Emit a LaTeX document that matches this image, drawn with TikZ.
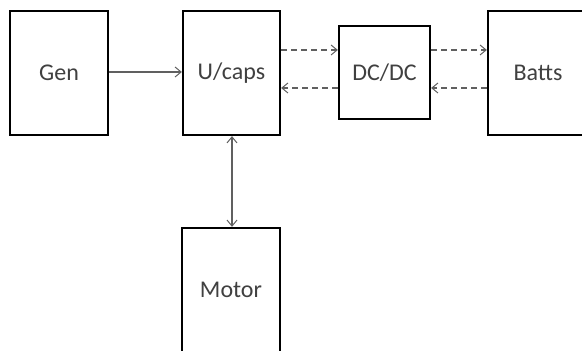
\documentclass[tikz,border=0pt]{standalone}
\usepackage{fontspec}
\setmainfont{Carlito}
\usetikzlibrary{arrows.meta,positioning}
\definecolor{txt}{HTML}{404040}
\definecolor{conn}{HTML}{606060}
\tikzset{
  blk/.style={draw=black, line width=2.3pt, fill=white, inner sep=0pt, font=\fontsize{24}{28}\selectfont, text=txt},
  link/.style={draw=conn, line width=1.1pt, -{Straight Barb[length=6pt,width=10pt,line width=1pt]}},
  dlink/.style={link, dashed, dash pattern=on 6pt off 4pt},
}
\begin{document}
\begin{tikzpicture}[x=1pt,y=1pt]
\useasboundingbox (0,0) rectangle (582,351);
\node[blk, minimum width=98pt, minimum height=124pt] (gen) at (59,278) {Gen};
\node[blk, minimum width=97pt, minimum height=124pt] (ucaps) at (231.5,278) {U/caps};
\node[blk, minimum width=91pt, minimum height=93pt] (dcdc) at (384.5,278.5) {DC/DC};
\node[blk, minimum width=100pt, minimum height=124pt] (batts) at (538,278) {Batts};
\node[blk, minimum width=98pt, minimum height=124pt] (motor) at (231,61) {Motor};
\draw[link] (gen.east |- 0,279) -- (ucaps.west |- 0,279);
\draw[dlink] (ucaps.east |- 0,301) -- (dcdc.west |- 0,301);
\draw[dlink] (dcdc.west |- 0,263) -- (ucaps.east |- 0,263);
\draw[dlink] (dcdc.east |- 0,301) -- (batts.west |- 0,301);
\draw[dlink] (batts.west |- 0,263) -- (dcdc.east |- 0,263);
\draw[link, {Straight Barb[length=6pt,width=10pt,line width=1pt]}-{Straight Barb[length=6pt,width=10pt,line width=1pt]}] (ucaps.south -| 232,0) -- (motor.north -| 232,0);
\end{tikzpicture}
\end{document}
